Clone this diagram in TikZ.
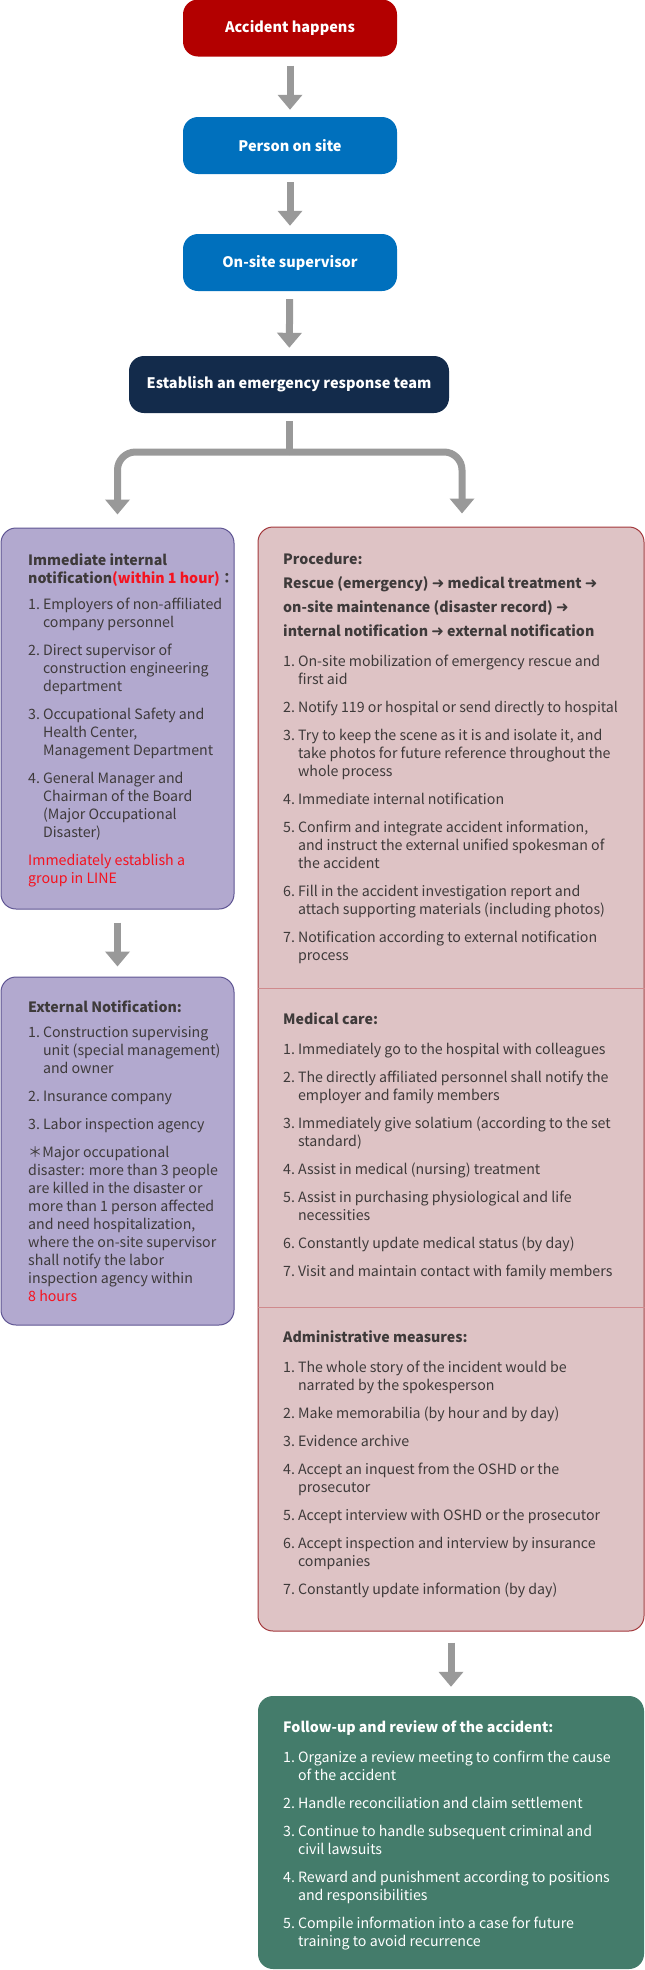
\documentclass[tikz,border=0pt]{standalone}
\usepackage{fontspec,xcolor}
\setmainfont{Noto Sans CJK TC}
\newfontfamily\symfont{DejaVu Sans}
\usetikzlibrary{arrows.meta,positioning}
\definecolor{accRed}{HTML}{B30000}
\definecolor{siteBlue}{HTML}{0070BD}
\definecolor{teamNavy}{HTML}{132B4B}
\definecolor{noteFill}{HTML}{B2A9CF}
\definecolor{noteLine}{HTML}{5F5593}
\definecolor{procFill}{HTML}{DEC3C5}
\definecolor{procLine}{HTML}{A3383C}
\definecolor{procRule}{HTML}{CF8A8D}
\definecolor{followGreen}{HTML}{447C6B}
\definecolor{arrowGray}{HTML}{999999}
\definecolor{textGray}{HTML}{3E3A3A}
\definecolor{alertRed}{HTML}{F5121E}
\newcommand{\hd}[1]{\multicolumn{2}{@{}l@{}}{\bfseries #1}}
\newcommand{\fl}[1]{\multicolumn{2}{@{}l@{}}{#1}}
\newcommand{\nxt}{{\mdseries\symfont\fontsize{15}{18}\selectfont ➜}}
\tikzset{
  stepBox/.style={rounded corners=15pt, inner sep=0pt, minimum width=214pt, minimum height=57pt, text=white, font=\fontsize{14.5}{18}\selectfont\bfseries},
  noteBox/.style={rounded corners=15pt, inner sep=0pt, fill=noteFill, draw=noteLine, line width=1pt, minimum width=233pt},
  flowArrow/.style={draw=arrowGray, line width=7pt, -{Triangle[width=24pt,length=15pt]}},
  listText/.style={anchor=base west, inner sep=0pt, text=textGray, font=\fontsize{14.2}{18}\selectfont}
}
\begin{document}
\begin{tikzpicture}[x=1pt,y=-1pt]
\useasboundingbox (0,0) rectangle (645,1970);
% main chain
\node[stepBox, fill=accRed] (acc) at (290,28) {Accident happens};
\node[stepBox, fill=siteBlue] (person) at (290,145.5) {Person on site};
\node[stepBox, fill=siteBlue] (sup) at (290,262.5) {On-site supervisor};
\node[stepBox, fill=teamNavy, minimum width=320pt] (team) at (289,384.5) {Establish an emergency response team};
\draw[flowArrow, shorten <=9pt, shorten >=7pt] (acc) -- (person);
\draw[flowArrow, shorten <=8pt, shorten >=8pt] (person) -- (sup);
\draw[flowArrow, shorten <=8pt, shorten >=8pt] (sup) -- (team);
% boxes
\node[noteBox, minimum height=381pt] (intnote) at (117.5,718.5) {};
\node[noteBox, minimum height=348pt] (extnote) at (117.5,1151) {};
\node[rounded corners=15pt, inner sep=0pt, fill=procFill, draw=procLine, line width=1pt, minimum width=386pt, minimum height=1104pt] (proc) at (451,1079) {};
\node[rounded corners=15pt, inner sep=0pt, fill=followGreen, minimum width=386pt, minimum height=273pt] (follow) at (451,1832.5) {};
\draw[procRule, line width=1pt] (proc.west |- 0,988) -- (proc.east |- 0,988);
\draw[procRule, line width=1pt] (proc.west |- 0,1307) -- (proc.east |- 0,1307);
% branch
\coordinate (fork) at (289,452);
\draw[draw=arrowGray, line width=7pt, shorten <=8pt] (team) -- (fork);
\draw[flowArrow, rounded corners=18pt, shorten >=13pt] (fork) -| (intnote.north);
\draw[flowArrow, rounded corners=18pt, shorten >=13pt] (fork) -| ([xshift=11pt]proc.north);
\draw[flowArrow, shorten <=13pt, shorten >=10pt] (intnote) -- (extnote);
\draw[flowArrow, shorten <=11pt, shorten >=9pt] (proc) -- (follow);
% texts
\node[listText] (intlist) at (28,565) {\begin{tabular}[t]{@{}l@{\hspace{3pt}}l@{}}
\hd{Immediate internal}\\
\hd{notification{\color{alertRed}(within 1 hour)}：}\\[8pt]
1.&Employers of non-affiliated\\
&company personnel\\[10pt]
2.&Direct supervisor of\\
&construction engineering\\
&department\\[10pt]
3.&Occupational Safety and\\
&Health Center,\\
&Management Department\\[10pt]
4.&General Manager and\\
&Chairman of the Board\\
&(Major Occupational\\
&Disaster)\\[10pt]
\fl{\color{alertRed}Immediately establish a}\\
\fl{\color{alertRed}group in LINE}
\end{tabular}};
\node[listText] (extlist) at (28,1012) {\begin{tabular}[t]{@{}l@{\hspace{3pt}}l@{}}
\hd{External Notification:}\\[7pt]
1.&Construction supervising\\
&unit (special management)\\
&and owner\\[10pt]
2.&Insurance company\\[10pt]
3.&Labor inspection agency\\[10pt]
\fl{＊Major occupational}\\
\fl{disaster: more than 3 people}\\
\fl{are killed in the disaster or}\\
\fl{more than 1 person affected}\\
\fl{and need hospitalization,}\\
\fl{where the on-site supervisor}\\
\fl{shall notify the labor}\\
\fl{inspection agency within}\\
\fl{\color{alertRed}8 hours}
\end{tabular}};
\node[listText] (proclist) at (283,564) {\begin{tabular}[t]{@{}l@{\hspace{3pt}}l@{}}
\hd{Procedure:}\\[6pt]
\hd{Rescue (emergency) \nxt{} medical treatment \nxt}\\[6pt]
\hd{on-site maintenance (disaster record) \nxt}\\[6pt]
\hd{internal notification \nxt{} external notification}\\[12pt]
1.&On-site mobilization of emergency rescue and\\
&first aid\\[10pt]
2.&Notify 119 or hospital or send directly to hospital\\[10pt]
3.&Try to keep the scene as it is and isolate it, and\\
&take photos for future reference throughout the\\
&whole process\\[10pt]
4.&Immediate internal notification\\[10pt]
5.&Confirm and integrate accident information,\\
&and instruct the external unified spokesman of\\
&the accident\\[10pt]
6.&Fill in the accident investigation report and\\
&attach supporting materials (including photos)\\[10pt]
7.&Notification according to external notification\\
&process
\end{tabular}};
\node[listText] (medlist) at (283,1024) {\begin{tabular}[t]{@{}l@{\hspace{3pt}}l@{}}
\hd{Medical care:}\\[12pt]
1.&Immediately go to the hospital with colleagues\\[10pt]
2.&The directly affiliated personnel shall notify the\\
&employer and family members\\[10pt]
3.&Immediately give solatium (according to the set\\
&standard)\\[10pt]
4.&Assist in medical (nursing) treatment\\[10pt]
5.&Assist in purchasing physiological and life\\
&necessities\\[10pt]
6.&Constantly update medical status (by day)\\[10pt]
7.&Visit and maintain contact with family members
\end{tabular}};
\node[listText] (admlist) at (283,1342) {\begin{tabular}[t]{@{}l@{\hspace{3pt}}l@{}}
\hd{Administrative measures:}\\[12pt]
1.&The whole story of the incident would be\\
&narrated by the spokesperson\\[10pt]
2.&Make memorabilia (by hour and by day)\\[10pt]
3.&Evidence archive\\[10pt]
4.&Accept an inquest from the OSHD or the\\
&prosecutor\\[10pt]
5.&Accept interview with OSHD or the prosecutor\\[10pt]
6.&Accept inspection and interview by insurance\\
&companies\\[10pt]
7.&Constantly update information (by day)
\end{tabular}};
\node[listText, text=white] (followlist) at (283,1732) {\begin{tabular}[t]{@{}l@{\hspace{3pt}}l@{}}
\hd{Follow-up and review of the accident:}\\[12pt]
1.&Organize a review meeting to confirm the cause\\
&of the accident\\[10pt]
2.&Handle reconciliation and claim settlement\\[10pt]
3.&Continue to handle subsequent criminal and\\
&civil lawsuits\\[10pt]
4.&Reward and punishment according to positions\\
&and responsibilities\\[10pt]
5.&Compile information into a case for future\\
&training to avoid recurrence
\end{tabular}};
\end{tikzpicture}
\end{document}
